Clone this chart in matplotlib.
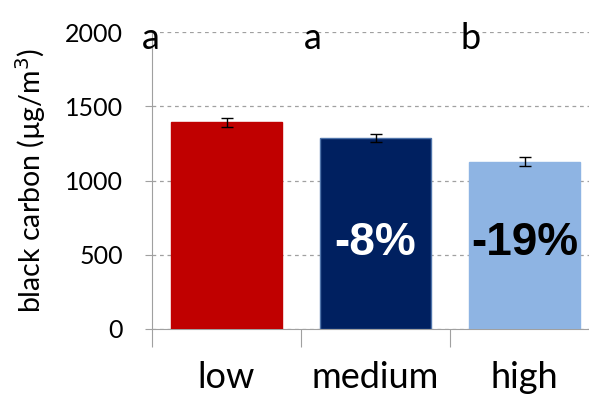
import matplotlib
matplotlib.use("Agg")
import matplotlib.pyplot as plt
import numpy as np

categories = ['low', 'medium', 'high']
values = [1391, 1287, 1127]
errors = [29, 29, 28]
colors = ['#C00000', '#002060', '#8EB4E3']
edges = ['#C00000', '#4F74AA', '#8EB4E3']
letters = ['a', 'a', 'b']
changes = ['', '-8%', '-19%']
change_colors = ['white', 'white', 'black']

plt.rcParams['font.family'] = ['Lato', 'DejaVu Sans']

fig = plt.figure(figsize=(5.89, 3.98), dpi=100)
ax = fig.add_axes([152/589, 1-329/398, 447/589, 297/398])

x = np.arange(len(categories))
ax.bar(x, values, width=0.745, color=colors, edgecolor=edges, linewidth=1, zorder=3)
ax.errorbar(x, values, yerr=errors, fmt='none', ecolor='black', elinewidth=1,
            capsize=4.3, capthick=1, zorder=4)

ax.set_xlim(-0.5, 2.5)
ax.set_ylim(0, 2000)
ax.set_yticks([0, 500, 1000, 1500, 2000])
ax.yaxis.grid(True, linestyle=(0, (3, 3)), color='#A0A0A0', linewidth=0.9, zorder=0)
ax.tick_params(axis='y', length=5, color='#A0A0A0', labelsize=18, pad=16)
ax.set_ylabel('black carbon (\u00b5g/m$^3$)', fontsize=20.5)
ax.yaxis.set_label_coords(-0.232, 0.5)

ax.set_xticks([-0.5, 0.5, 1.5])
ax.set_xticklabels([])
ax.tick_params(axis='x', which='major', length=13, color='#A0A0A0')
ax.set_xticks(x, minor=True)
ax.set_xticklabels(categories, minor=True)
ax.tick_params(axis='x', which='minor', length=0, labelsize=26, pad=23)

for s in ['top', 'right']:
    ax.spines[s].set_visible(False)
for s in ['left', 'bottom']:
    ax.spines[s].set_color('#A0A0A0')

letter_x = [-0.507, 0.58, 1.64]
for lx, t in zip(letter_x, letters):
    ax.text(lx, 1885, t, ha='center', va='baseline', fontsize=26, zorder=5)

for xi, t, c in zip(x, changes, change_colors):
    if t:
        ax.text(xi, 580, t, ha='center', va='center', fontsize=33, fontweight='bold',
                color=c, family=['Liberation Sans', 'DejaVu Sans'], zorder=5)

fig.savefig('out.png', dpi=100)
